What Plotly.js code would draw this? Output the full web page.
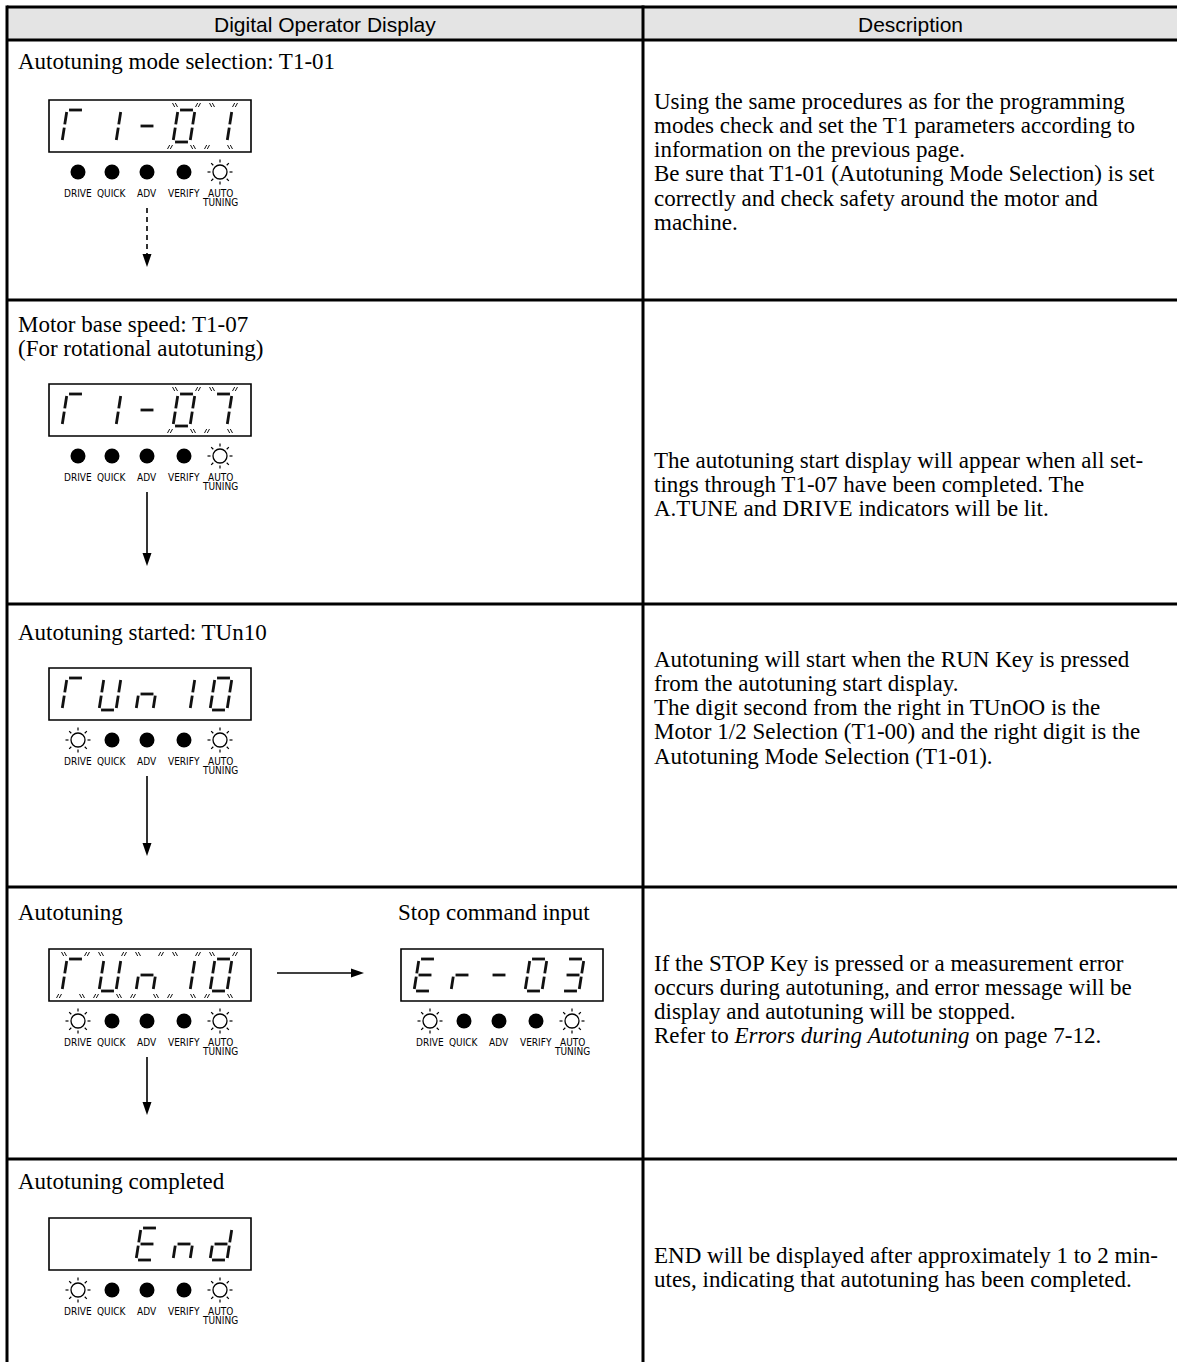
<!DOCTYPE html>
<html><head><meta charset="utf-8">
<script src="https://cdn.plot.ly/plotly-3.0.1.min.js"></script>
<style>html,body{margin:0;padding:0;background:#fff;} #chart{width:1177px;height:1362px;}</style>
</head><body><div id="chart"></div>
<script>
// ---------------- data ----------------
const headerTitles = ["Digital Operator Display", "Description"];
const rowLabels = [
  ["Autotuning mode selection: T1-01"],
  ["Motor base speed: T1-07", "(For rotational autotuning)"],
  ["Autotuning started: TUn10"],
  ["Autotuning"],
  ["Autotuning completed"]
];
const extraLabel = "Stop command input";
const descriptions = [
  ["Using the same procedures as for the programming",
   "modes check and set the T1 parameters according to",
   "information on the previous page.",
   "Be sure that T1-01 (Autotuning Mode Selection) is set",
   "correctly and check safety around the motor and",
   "machine."],
  ["The autotuning start display will appear when all set-",
   "tings through T1-07 have been completed. The",
   "A.TUNE and DRIVE indicators will be lit."],
  ["Autotuning will start when the RUN Key is pressed",
   "from the autotuning start display.",
   "The digit second from the right in TUnOO is the",
   "Motor 1/2 Selection (T1-00) and the right digit is the",
   "Autotuning Mode Selection (T1-01)."],
  ["If the STOP Key is pressed or a measurement error",
   "occurs during autotuning, and error message will be",
   "display and autotuning will be stopped.",
   "Refer to <i>Errors during Autotuning</i> on page 7-12."],
  ["END will be displayed after approximately 1 to 2 min-",
   "utes, indicating that autotuning has been completed."]
];
const displayTexts = ["T1-01", "T1-07", "TUn10", "TUn10", "Er-03", "  End"];
const blinkPositions = [[3, 4], [3, 4], [], [0, 1, 2, 3, 4], [], []];
const indicatorNames = ["DRIVE", "QUICK", "ADV", "VERIFY", "AUTO"];
const indicatorSub = ["", "", "", "", "TUNING"];
const indicatorLit = [
  [0, 0, 0, 0, 1], [0, 0, 0, 0, 1], [1, 0, 0, 0, 1],
  [1, 0, 0, 0, 1], [1, 0, 0, 0, 1], [1, 0, 0, 0, 1]
];
const segmentMap = {
  "T": "afe", "1": "bc", "-": "g", "0": "abcdef", "7": "abc", "U": "bcdef",
  "n": "ceg", "E": "adefg", "r": "eg", "3": "abcdg", "d": "bcdeg", " ": ""
};
const verticalArrowDash = ["dash", "solid", "solid", "solid"];

// ---------------- layout geometry ----------------
const W = 1177, H = 1362;
const LEFT = 7, DIV = 643, HDR_TOP = 7, HDR_BOT = 40;
const rowTops = [40, 300, 604, 887, 1159];
const labelY = [[61], [324, 348], [632], [912], [1181]];
const extraLabelPos = {x: 494, y: 912};
const descX = 652, descStartY = [101, 460, 659, 963, 1255], descStep = 24.3;
const boxes = [
  {x: 49, y: 100}, {x: 49, y: 384}, {x: 49, y: 668},
  {x: 49, y: 949}, {x: 401, y: 949}, {x: 49, y: 1218}
];
const BOX_W = 202, BOX_H = 52;
const digitX0 = 13, digitPitch = 37, digitTop = 10, digitH = 32, digitW = 17, slant = 5;
const indX = [29, 63, 98, 135, 171];
const arrowLen = [59, 74, 80, 58];
const horizArrow = {x1: 277, x2: 364, y: 973};

const segDefs = {
  a: [[0.12, 0], [0.88, 0]], b: [[1, 0.06], [1, 0.45]], c: [[1, 0.55], [1, 0.94]],
  d: [[0.12, 1], [0.88, 1]], e: [[0, 0.55], [0, 0.94]], f: [[0, 0.06], [0, 0.45]],
  g: [[0.12, 0.5], [0.88, 0.5]]
};

const serif = "Liberation Serif, Times New Roman, serif";
const sans = "Liberation Sans, Arial, sans-serif";
const cond = "DejaVu Sans Condensed, Liberation Sans Narrow, sans-serif";

const shapes = [], annotations = [], traces = [];

// table frame
shapes.push({type: "rect", x0: LEFT, x1: W + 5, y0: HDR_TOP, y1: HDR_BOT, fillcolor: "#e4e4e4", line: {width: 0}, layer: "below"});
const lineStyle = {color: "#000", width: 3};
shapes.push({type: "line", x0: LEFT, x1: W + 5, y0: HDR_TOP, y1: HDR_TOP, line: lineStyle});
shapes.push({type: "line", x0: LEFT, x1: W + 5, y0: HDR_BOT, y1: HDR_BOT, line: lineStyle});
rowTops.slice(1).forEach(y => shapes.push({type: "line", x0: LEFT, x1: W + 5, y0: y, y1: y, line: lineStyle}));
shapes.push({type: "line", x0: LEFT, x1: LEFT, y0: HDR_TOP - 1.5, y1: H + 5, line: lineStyle});
shapes.push({type: "line", x0: DIV, x1: DIV, y0: HDR_TOP - 1.5, y1: H + 5, line: lineStyle});

// header titles
[(LEFT + DIV) / 2, (DIV + W) / 2].forEach((cx, i) => annotations.push({
  x: cx, y: (HDR_TOP + HDR_BOT) / 2 + 1, text: headerTitles[i], showarrow: false,
  xanchor: "center", yanchor: "middle", font: {family: sans, size: 21, color: "#000"}
}));

// row labels
rowLabels.forEach((lines, r) => lines.forEach((t, k) => annotations.push({
  x: 16, y: labelY[r][k], text: t, showarrow: false, xanchor: "left", yanchor: "middle",
  font: {family: serif, size: 23, color: "#000"}
})));
annotations.push({x: extraLabelPos.x, y: extraLabelPos.y, text: extraLabel, showarrow: false,
  xanchor: "center", yanchor: "middle", font: {family: serif, size: 23, color: "#000"}});

// descriptions
descriptions.forEach((lines, r) => lines.forEach((t, k) => annotations.push({
  x: descX, y: descStartY[r] + k * descStep, text: t, showarrow: false, xanchor: "left", yanchor: "middle",
  font: {family: serif, size: 23, color: "#000"}
})));

// displays
const segX = [], segY = [], blX = [], blY = [];
const dotX = [], dotY = [], sunX = [], sunY = [], rayX = [], rayY = [];
boxes.forEach((b, di) => {
  shapes.push({type: "rect", x0: b.x, x1: b.x + BOX_W, y0: b.y, y1: b.y + BOX_H, line: {color: "#000", width: 1.6}, fillcolor: "rgba(0,0,0,0)"});
  const txt = displayTexts[di];
  for (let p = 0; p < txt.length; p++) {
    const x0 = b.x + digitX0 + p * digitPitch, y0 = b.y + digitTop;
    const pt = (u, v) => [x0 + u * digitW + (1 - v) * slant, y0 + v * digitH];
    const segs = segmentMap[txt[p]] || "";
    for (const s of segs) {
      const [p1, p2] = segDefs[s].map(q => pt(q[0], q[1]));
      segX.push(p1[0], p2[0], null); segY.push(p1[1], p2[1], null);
    }
    if (blinkPositions[di].includes(p)) {
      const corners = [
        {c: pt(0, 0), dx: -3, dy: -5, dir: -1}, {c: pt(1, 0), dx: 3, dy: -5, dir: 1},
        {c: pt(0, 1), dx: -3, dy: 5, dir: 1}, {c: pt(1, 1), dx: 3, dy: 5, dir: -1}
      ];
      corners.forEach(k => {
        const cx = k.c[0] + k.dx, cy = k.c[1] + k.dy;
        [-1.4, 1.4].forEach(o => {
          if (k.dir < 0) { blX.push(cx + o - 1.1, cx + o + 1.1, null); }
          else { blX.push(cx + o + 1.1, cx + o - 1.1, null); }
          blY.push(cy - 2, cy + 2, null);
        });
      });
    }
  }
  // indicators
  const iy = b.y + BOX_H + 20;
  indX.forEach((ox, k) => {
    const ix = b.x + ox;
    if (indicatorLit[di][k]) {
      sunX.push(ix); sunY.push(iy);
      for (let a = 0; a < 8; a++) {
        const ang = a * Math.PI / 4;
        rayX.push(ix + 9.5 * Math.cos(ang), ix + 12.5 * Math.cos(ang), null);
        rayY.push(iy + 9.5 * Math.sin(ang), iy + 12.5 * Math.sin(ang), null);
      }
    } else { dotX.push(ix); dotY.push(iy); }
    annotations.push({x: ix, y: iy + 21, text: indicatorNames[k], showarrow: false, xanchor: "center", yanchor: "middle",
      font: {family: cond, size: 10, color: "#000"}});
    if (indicatorSub[k]) annotations.push({x: ix, y: iy + 30.5, text: indicatorSub[k], showarrow: false, xanchor: "center", yanchor: "middle",
      font: {family: cond, size: 10, color: "#000"}});
  });
});

traces.push({x: segX, y: segY, mode: "lines", line: {color: "#111", width: 2.8}, hoverinfo: "skip"});
traces.push({x: blX, y: blY, mode: "lines", line: {color: "#111", width: 1}, hoverinfo: "skip"});
traces.push({x: dotX, y: dotY, mode: "markers", marker: {symbol: "circle", size: 15, color: "#000"}, hoverinfo: "skip"});
traces.push({x: sunX, y: sunY, mode: "markers", marker: {symbol: "circle-open", size: 14, color: "#000", line: {width: 1.3}}, hoverinfo: "skip"});
traces.push({x: rayX, y: rayY, mode: "lines", line: {color: "#000", width: 1.2}, hoverinfo: "skip"});

// arrows
verticalArrowDash.forEach((dash, i) => {
  const b = boxes[i];
  const ax = b.x + indX[2], y1 = b.y + 108, y2 = y1 + arrowLen[i];
  traces.push({x: [ax, ax], y: [y1, y2 - 10], mode: "lines", line: {color: "#000", width: 1.6, dash: dash === "dash" ? "5px,4px" : "solid"}, hoverinfo: "skip"});
  shapes.push({type: "path", path: `M ${ax - 4.5} ${y2 - 13} L ${ax + 4.5} ${y2 - 13} L ${ax} ${y2} Z`, fillcolor: "#000", line: {width: 0}});
});
traces.push({x: [horizArrow.x1, horizArrow.x2 - 10], y: [horizArrow.y, horizArrow.y], mode: "lines", line: {color: "#000", width: 1.6}, hoverinfo: "skip"});
shapes.push({type: "path", path: `M ${horizArrow.x2 - 13} ${horizArrow.y - 4.5} L ${horizArrow.x2 - 13} ${horizArrow.y + 4.5} L ${horizArrow.x2} ${horizArrow.y} Z`, fillcolor: "#000", line: {width: 0}});

const layout = {
  width: W, height: H, margin: {l: 0, r: 0, t: 0, b: 0},
  paper_bgcolor: "#fff", plot_bgcolor: "#fff", showlegend: false,
  xaxis: {range: [0, W], visible: false, fixedrange: true},
  yaxis: {range: [H, 0], visible: false, fixedrange: true},
  shapes: shapes, annotations: annotations
};
Plotly.newPlot("chart", traces, layout, {staticPlot: true, displayModeBar: false});
</script></body></html>
